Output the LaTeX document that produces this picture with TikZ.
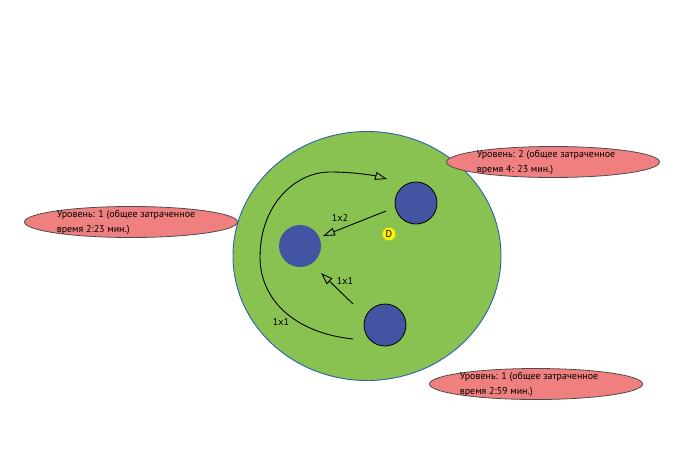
\documentclass[tikz,border=0pt]{standalone}
\usepackage{fontspec}
\setmainfont{PT Sans}
\usepackage{tikz}
\usetikzlibrary{arrows.meta, shapes.geometric, positioning}
\definecolor{fieldgreen}{RGB}{137,194,80}
\definecolor{unitblue}{RGB}{66,84,162}
\definecolor{notepink}{RGB}{240,128,128}
\definecolor{rimblue}{RGB}{45,95,175}
\tikzstyle{field}=[ellipse, draw=rimblue, fill=fieldgreen, line width=0.9pt, minimum width=268pt, minimum height=249pt, inner sep=0pt]
\tikzstyle{unit}=[circle, fill=unitblue, minimum size=42pt, inner sep=0pt]
\tikzstyle{note}=[ellipse, draw=black!70, fill=notepink, line width=0.8pt, minimum width=213pt, minimum height=31pt, inner sep=0pt]
\tikzstyle{notetext}=[align=left, font=\fontsize{10}{15}\selectfont, inner sep=0pt]
\tikzstyle{movelabel}=[font=\fontsize{10}{11}\selectfont]
\tikzstyle{move}=[-{Triangle[open, length=12pt, width=8pt]}, line width=0.9pt]

\begin{document}
\begin{tikzpicture}[x=1pt, y=-1pt]
				\path[use as bounding box] (0,0) rectangle (700,469);
				\node[field] (fld) at (367,256) {};

				\node[unit] (u0) at (300,246) {};
				\node[unit, draw=black, line width=0.8pt] (u1) at (416,203) {};
				\node[unit, draw=black, line width=0.8pt] (u2) at (385,325) {};
				\node[circle, fill=yellow, minimum size=13pt, inner sep=0pt, font=\fontsize{10}{11}\selectfont] (dpt) at (389,234) {D};

				% arrows between units
				\coordinate (s1) at (386,211);
				\coordinate (e1) at (323,236);
				\draw[move] (s1) -- (e1);
				\coordinate (s2) at (353,304);
				\coordinate (e2) at (321,273);
				\draw[move] (s2) -- (e2);
				\coordinate (s3) at (353,339);
				\coordinate (e3) at (387,179);
				\draw[move] (s3) .. controls (295,333) and (260,300) .. (260,257)
								.. controls (260,205) and (295,172) .. (330,172)
								.. controls (352,172) and (372,175) .. (e3);

				\node[movelabel] (m1) at (340,218) {1x2};
				\node[movelabel] (m2) at (345,281) {1x1};
				\node[movelabel] (m3) at (281,322) {1x1};

				% level notes
				\node[note] (n1) at (131,222) {};
				\node[notetext] (t1) at ([xshift=-5pt]n1.center) {Уровень: 1 (общее затраченное\\время 2:23 мин.)};
				\node[note] (n2) at (553,162) {};
				\node[notetext] (t2) at ([xshift=-7pt]n2.center) {Уровень: 2 (общее затраченное\\время 4: 23 мин.)};
				\node[note] (n3) at (536,384) {};
				\node[notetext] (t3) at ([xshift=-7pt]n3.center) {Уровень: 1 (общее затраченное\\время 2:59 мин.)};
\end{tikzpicture}
\end{document}
